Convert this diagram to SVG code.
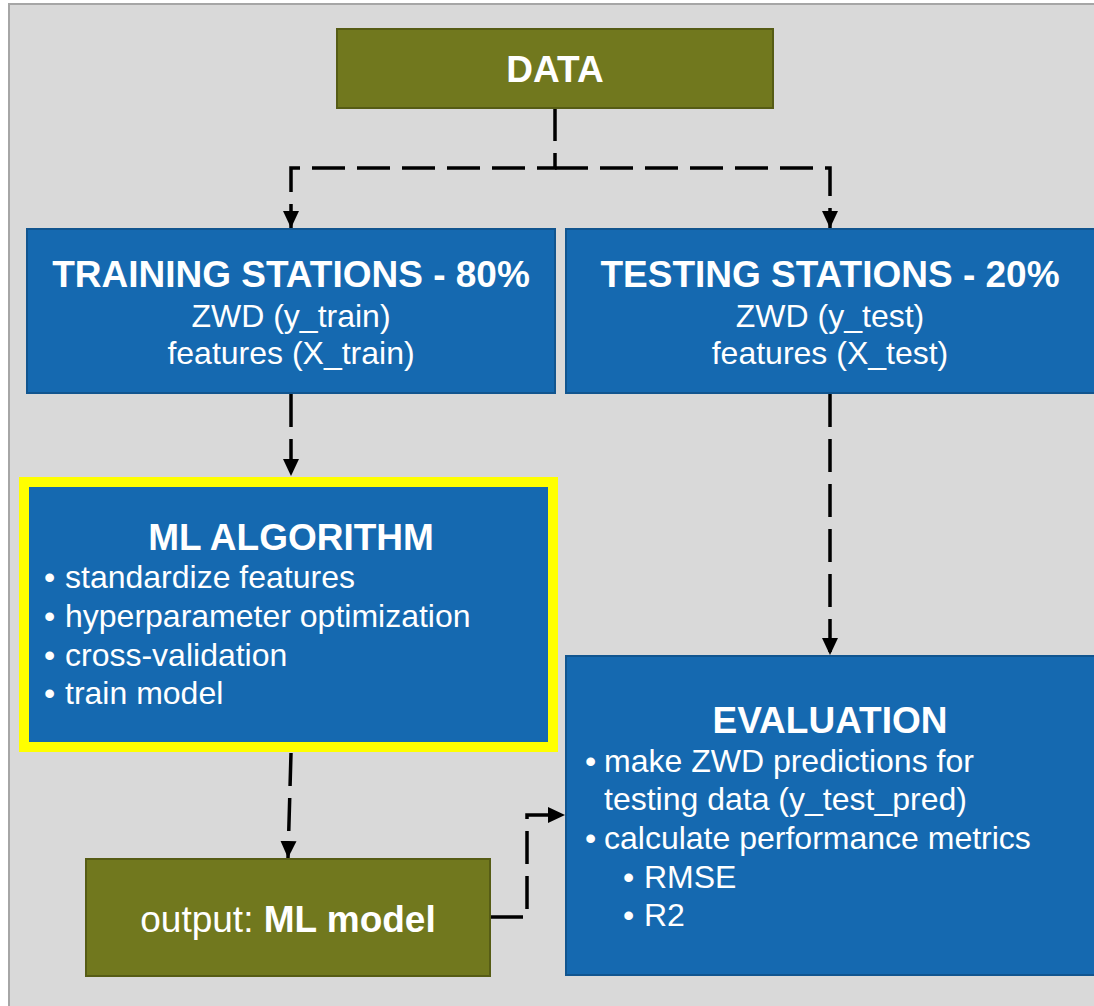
<svg xmlns="http://www.w3.org/2000/svg" width="1094" height="1006" viewBox="0 0 1094 1006">
<defs>
<style>
.panel{fill:#d9d9d9;stroke:#a6a6a6;stroke-width:2}
.blue{fill:#1569b0;stroke:#11558f;stroke-width:2}
.olive{fill:#71781e;stroke:#565c15;stroke-width:2}
.conn{fill:none;stroke:#000;stroke-width:3.5;stroke-dasharray:33 12}
text{font-family:"Liberation Sans",Arial,sans-serif;fill:#fff}
.h{font-weight:bold;font-size:37px;text-anchor:middle}
.c{font-size:32px;text-anchor:middle}
.t{font-size:32px}
</style>
<marker id="arr" markerUnits="userSpaceOnUse" markerWidth="18" markerHeight="18" viewBox="0 0 18 18" refX="17" refY="9" orient="auto">
<path d="M0,1 L17,9 L0,17 Z" fill="#000"/>
</marker>
</defs>
<rect class="panel" x="9" y="4" width="1100" height="1020"/>
<g id="connectors">
<path class="conn" d="M555,108 V168 H291 V228" marker-end="url(#arr)"/>
<path class="conn" d="M555,168 H830 V228" marker-end="url(#arr)"/>
<path class="conn" d="M291,394 V476" marker-end="url(#arr)"/>
<path class="conn" d="M291,753 L288,858" marker-end="url(#arr)"/>
<path class="conn" d="M830,394 V655" marker-end="url(#arr)"/>
<path class="conn" d="M490,917 H527 V815 H565" marker-end="url(#arr)"/>
</g>
<g id="data">
<rect class="olive" x="337" y="29" width="436" height="79"/>
<text class="h" x="555" y="82">DATA</text>
</g>
<g id="training">
<rect class="blue" x="27" y="229" width="528" height="164"/>
<text class="h" x="291" y="287">TRAINING STATIONS - 80%</text>
<text class="c" x="291" y="327">ZWD (y_train)</text>
<text class="c" x="291" y="364">features (X_train)</text>
</g>
<g id="testing">
<rect class="blue" x="566" y="229" width="540" height="164"/>
<text class="h" x="830" y="287">TESTING STATIONS - 20%</text>
<text class="c" x="830" y="327">ZWD (y_test)</text>
<text class="c" x="830" y="364">features (X_test)</text>
</g>
<g id="ml-algorithm">
<rect x="24" y="482" width="529" height="265" fill="#1569b0" stroke="#ffff00" stroke-width="10"/>
<text class="h" x="291" y="550">ML ALGORITHM</text>
<text class="t" x="44" y="588">•</text><text class="t" x="65" y="588">standardize features</text>
<text class="t" x="44" y="627">•</text><text class="t" x="65" y="627">hyperparameter optimization</text>
<text class="t" x="44" y="666">•</text><text class="t" x="65" y="666">cross-validation</text>
<text class="t" x="44" y="704">•</text><text class="t" x="65" y="704">train model</text>
</g>
<g id="output">
<rect class="olive" x="86" y="859" width="404" height="117"/>
<text x="288" y="932" style="font-size:37px;text-anchor:middle">output: <tspan font-weight="bold">ML model</tspan></text>
</g>
<g id="evaluation">
<rect class="blue" x="566" y="656" width="540" height="319"/>
<text class="h" x="830" y="733">EVALUATION</text>
<text class="t" x="585" y="772">•</text><text class="t" x="604" y="772">make ZWD predictions for</text>
<text class="t" x="604" y="810">testing data (y_test_pred)</text>
<text class="t" x="585" y="849">•</text><text class="t" x="604" y="849">calculate performance metrics</text>
<text class="t" x="623" y="888">•</text><text class="t" x="644" y="888">RMSE</text>
<text class="t" x="623" y="926">•</text><text class="t" x="644" y="926">R2</text>
</g>
</svg>
